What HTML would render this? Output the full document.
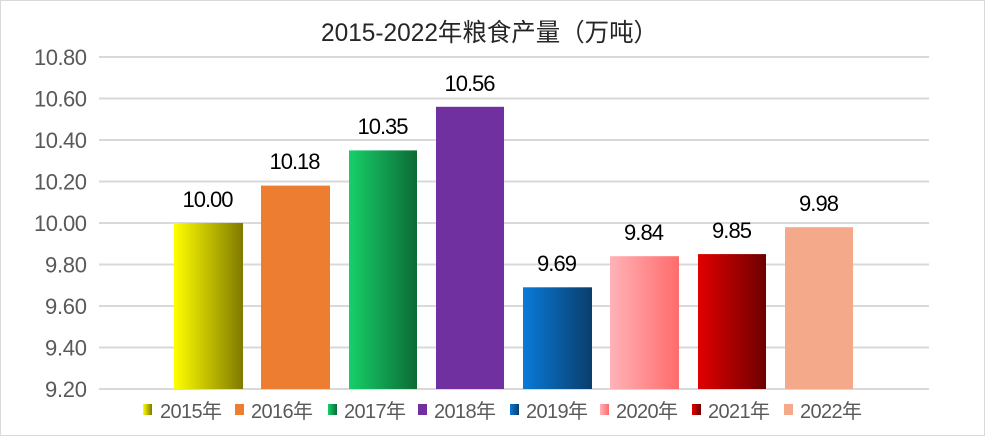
<!DOCTYPE html>
<html><head><meta charset="utf-8"><style>
html,body{margin:0;padding:0;background:#fff}
svg{display:block}
text{font-family:"Liberation Sans","Noto Sans CJK SC",sans-serif}
</style></head><body>
<svg width="985" height="436" viewBox="0 0 985 436" xmlns="http://www.w3.org/2000/svg">
<defs>
<linearGradient id="g15"><stop offset="0" stop-color="#ffff00"/><stop offset="1" stop-color="#7f7a00"/></linearGradient>
<linearGradient id="g16"><stop offset="0" stop-color="#ed7d31"/><stop offset="1" stop-color="#ed7d31"/></linearGradient>
<linearGradient id="g17"><stop offset="0" stop-color="#17d06a"/><stop offset="1" stop-color="#0b6b35"/></linearGradient>
<linearGradient id="g18"><stop offset="0" stop-color="#7030a0"/><stop offset="1" stop-color="#7030a0"/></linearGradient>
<linearGradient id="g19"><stop offset="0" stop-color="#0a7ad8"/><stop offset="1" stop-color="#0a3d6c"/></linearGradient>
<linearGradient id="g20"><stop offset="0" stop-color="#ffb3b8"/><stop offset="1" stop-color="#ff6b6b"/></linearGradient>
<linearGradient id="g21"><stop offset="0" stop-color="#e00000"/><stop offset="1" stop-color="#6e0000"/></linearGradient>
<linearGradient id="g22"><stop offset="0" stop-color="#f4a98a"/><stop offset="1" stop-color="#f4a98a"/></linearGradient>
</defs>
<rect x="0.5" y="0.5" width="984" height="435" fill="#fff" stroke="#d9d9d9"/>
<text x="321" y="41" font-size="25" fill="#262626" textLength="337" lengthAdjust="spacingAndGlyphs">2015-2022年粮食产量（万吨）</text>
<g stroke="#d9d9d9" stroke-width="2">
<line x1="99" x2="929" y1="57" y2="57"/><line x1="99" x2="929" y1="98.5" y2="98.5"/>
<line x1="99" x2="929" y1="140" y2="140"/><line x1="99" x2="929" y1="181.5" y2="181.5"/>
<line x1="99" x2="929" y1="223" y2="223"/><line x1="99" x2="929" y1="264.5" y2="264.5"/>
<line x1="99" x2="929" y1="306" y2="306"/><line x1="99" x2="929" y1="347.5" y2="347.5"/>
<line x1="99" x2="929" y1="389" y2="389"/>
</g>
<g font-size="22" fill="#595959" text-anchor="end" lengthAdjust="spacingAndGlyphs">
<text x="87" y="65" textLength="53">10.80</text><text x="87" y="106.5" textLength="53">10.60</text><text x="87" y="148" textLength="53">10.40</text>
<text x="87" y="189.5" textLength="53">10.20</text><text x="87" y="231" textLength="53">10.00</text><text x="87" y="272.5" textLength="42">9.80</text>
<text x="87" y="314" textLength="42">9.60</text><text x="87" y="355.5" textLength="42">9.40</text><text x="87" y="397" textLength="42">9.20</text>
</g>
<rect x="174" y="223" width="69" height="166" fill="url(#g15)"/>
<rect x="261" y="185.6" width="69" height="203.4" fill="url(#g16)"/>
<rect x="349" y="150.4" width="68" height="238.6" fill="url(#g17)"/>
<rect x="436" y="106.8" width="68" height="282.2" fill="url(#g18)"/>
<rect x="523" y="287.3" width="69" height="101.7" fill="url(#g19)"/>
<rect x="610" y="256.2" width="69" height="132.8" fill="url(#g20)"/>
<rect x="698" y="254.1" width="68" height="134.9" fill="url(#g21)"/>
<rect x="785" y="227.2" width="68" height="161.8" fill="url(#g22)"/>
<g font-size="22" fill="#000" text-anchor="middle" lengthAdjust="spacingAndGlyphs">
<text x="208" y="207" textLength="51">10.00</text><text x="295" y="169" textLength="51">10.18</text><text x="383" y="134" textLength="51">10.35</text>
<text x="470" y="91" textLength="51">10.56</text><text x="557" y="271" textLength="40">9.69</text><text x="644" y="240" textLength="40">9.84</text>
<text x="732" y="238" textLength="40">9.85</text><text x="819" y="211" textLength="40">9.98</text>
</g>
<g font-size="20" fill="#595959" lengthAdjust="spacingAndGlyphs">
<rect x="143" y="404" width="9" height="11" fill="url(#g15)"/><text x="160" y="418" textLength="62">2015年</text>
<rect x="235" y="404" width="9" height="11" fill="url(#g16)"/><text x="251" y="418" textLength="62">2016年</text>
<rect x="328" y="404" width="9" height="11" fill="url(#g17)"/><text x="344" y="418" textLength="62">2017年</text>
<rect x="418" y="404" width="9" height="11" fill="url(#g18)"/><text x="434" y="418" textLength="62">2018年</text>
<rect x="510" y="404" width="9" height="11" fill="url(#g19)"/><text x="526" y="418" textLength="62">2019年</text>
<rect x="600" y="404" width="9" height="11" fill="url(#g20)"/><text x="616" y="418" textLength="62">2020年</text>
<rect x="692" y="404" width="9" height="11" fill="url(#g21)"/><text x="708" y="418" textLength="62">2021年</text>
<rect x="784" y="404" width="9" height="11" fill="url(#g22)"/><text x="800" y="418" textLength="62">2022年</text>
</g>
</svg>
</body></html>
